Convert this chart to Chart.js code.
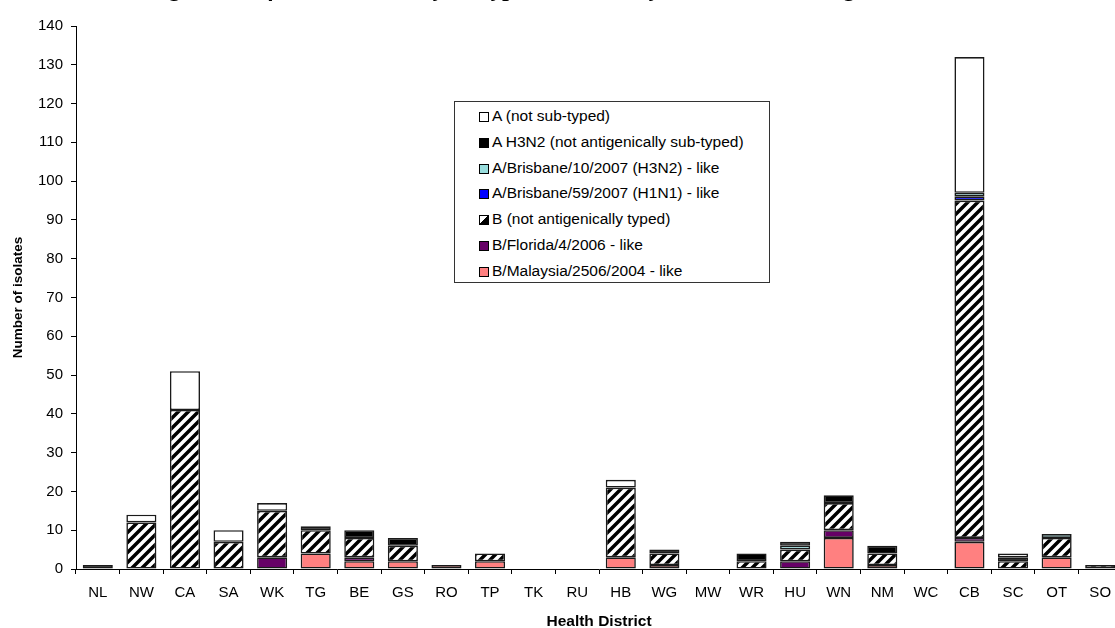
<!DOCTYPE html>
<html>
<head>
<meta charset="utf-8">
<script src="https://cdn.jsdelivr.net/npm/chart.js@4.4.1/dist/chart.umd.min.js"></script>
<style>
  html, body { margin: 0; padding: 0; background: #fff; overflow: hidden; }
  #wrap { position: relative; width: 1124px; height: 628px; }
  #title { position: absolute; left: 148px; top: -25px; line-height: 24px;
           font: italic bold 24px "Liberation Serif", serif; color: #000; white-space: nowrap; }
  #legend { position: absolute; left: 454px; top: 101px; width: 316px; height: 182px;
            border: 1px solid #333; background: #fff; box-sizing: border-box;
            font: 15.5px "Liberation Sans", Arial, sans-serif; color: #000; }
  .item { position: absolute; left: 24px; height: 18px; line-height: 18px; white-space: nowrap; }
  .sw { display: inline-block; width: 10px; height: 10px; border: 1px solid #000; margin-right: 3px;
        vertical-align: -1px; box-sizing: border-box; }
</style>
</head>
<body>
<div id="wrap">
  <div id="title">Figure 9. Influenza viruses by subtype and strain by health district, August 2008</div>
  <canvas id="c" width="1124" height="628"></canvas>
  <div id="legend"></div>
</div>
<script>
const categories = ['NL','NW','CA','SA','WK','TG','BE','GS','RO','TP','TK','RU','HB','WG','MW','WR','HU','WN','NM','WC','CB','SC','OT','SO'];

const malaysia   = [0,0,0,0,0,4,2,2,1,2,0,0,3,1,0,0,0,8,1,0,7,0,3,0];
const florida    = [0,0,0,0,3,0,1,0,0,0,0,0,0,0,0,0,2,2,0,0,1,0,0,0];
const bNotTyped  = [0,12,41,7,12,6,5,4,0,2,0,0,18,3,0,2,3,7,3,0,87,2,5,1];
const brisbane59 = [0,0,0,0,0,0,0,0,0,0,0,0,0,0,0,0,0,0,0,0,1,0,0,0];
const brisbane10 = [0,0,0,0,0,0,0,0,0,0,0,0,0,0,0,0,1,0,0,0,1,0,1,0];
const aH3N2      = [1,0,0,0,0,1,2,2,0,0,0,0,0,1,0,2,1,2,2,0,0,1,0,0];
const aNotSub    = [0,2,10,3,2,0,0,0,0,0,0,0,2,0,0,0,0,0,0,0,35,1,0,0];

const seriesNames = [
  'B/Malaysia/2506/2004 - like',
  'B/Florida/4/2006 - like',
  'B (not antigenically typed)',
  'A/Brisbane/59/2007 (H1N1) - like',
  'A/Brisbane/10/2007 (H3N2) - like',
  'A H3N2 (not antigenically sub-typed)',
  'A (not sub-typed)'
];
const yTicks = { min: 0, max: 140, step: 10 };

// hatch pattern
function makeHatch() {
  const s = 10;
  const c = document.createElement('canvas');
  c.width = s; c.height = s;
  const g = c.getContext('2d');
  g.fillStyle = '#fff'; g.fillRect(0, 0, s, s);
  g.strokeStyle = '#000'; g.lineWidth = 3.5; g.lineCap = 'square';
  g.beginPath();
  g.moveTo(-2, s + 2); g.lineTo(s + 2, -2);
  g.moveTo(-2, 2); g.lineTo(2, -2);
  g.moveTo(s - 2, s + 2); g.lineTo(s + 2, s - 2);
  g.stroke();
  return document.getElementById('c').getContext('2d').createPattern(c, 'repeat');
}
const hatch = makeHatch();

const fills = ['#FF8080', '#660066', hatch, '#0000FF', '#99DDDD', '#000000', '#FFFFFF'];
const swatchCss = ['#FF8080', '#660066', 'linear-gradient(135deg, #fff 50%, #000 50%)', '#0000FF', '#99DDDD', '#000000', '#FFFFFF'];
const seriesData = [malaysia, florida, bNotTyped, brisbane59, brisbane10, aH3N2, aNotSub];

const datasets = seriesData.map((arr, i) => ({
  label: seriesNames[i],
  data: arr.map(v => v === 0 ? null : v),
  backgroundColor: fills[i],
  borderColor: '#1a1a1a',
  borderWidth: 1.6,
  borderSkipped: false,
  categoryPercentage: 1.0,
  barPercentage: 0.69
}));

Chart.defaults.font.family = '"Liberation Sans", Arial, sans-serif';
Chart.defaults.color = '#000';

new Chart(document.getElementById('c'), {
  type: 'bar',
  data: { labels: categories, datasets },
  options: {
    responsive: false,
    animation: false,
    layout: { padding: { top: 26, right: 2, left: 0, bottom: 0 } },
    plugins: { legend: { display: false }, tooltip: { enabled: false } },
    scales: {
      x: {
        stacked: true,
        offset: true,
        grid: { display: true, offset: true, drawOnChartArea: false, tickLength: 5, color: '#000', tickColor: '#000' },
        border: { display: true, color: '#000', width: 1 },
        ticks: { font: { size: 15 }, padding: 10, maxRotation: 0, autoSkip: false },
        title: { display: true, text: 'Health District', font: { size: 15.5, weight: 'bold' }, padding: { top: 0, bottom: -3 } },
        afterFit: s => { s.height = 59; }
      },
      y: {
        stacked: true,
        min: yTicks.min, max: yTicks.max,
        grid: { display: true, drawOnChartArea: false, tickLength: 5, color: '#000', tickColor: '#000' },
        border: { display: true, color: '#000', width: 1 },
        ticks: { stepSize: yTicks.step, font: { size: 15 }, padding: 8 },
        title: { display: true, text: 'Number of isolates', font: { size: 13.5, weight: 'bold' }, padding: { top: 10, bottom: 0 } },
        afterFit: s => { s.width = 76; }
      }
    }
  }
});

// legend (reverse order like the reference)
const leg = document.getElementById('legend');
const order = [6, 5, 4, 3, 2, 1, 0];
order.forEach((idx, k) => {
  const d = document.createElement('div');
  d.className = 'item';
  d.style.top = (5 + k * 25.8) + 'px';
  const sw = document.createElement('span');
  sw.className = 'sw';
  sw.style.background = swatchCss[idx];
  d.appendChild(sw);
  d.appendChild(document.createTextNode(seriesNames[idx]));
  leg.appendChild(d);
});
</script>
</body>
</html>
